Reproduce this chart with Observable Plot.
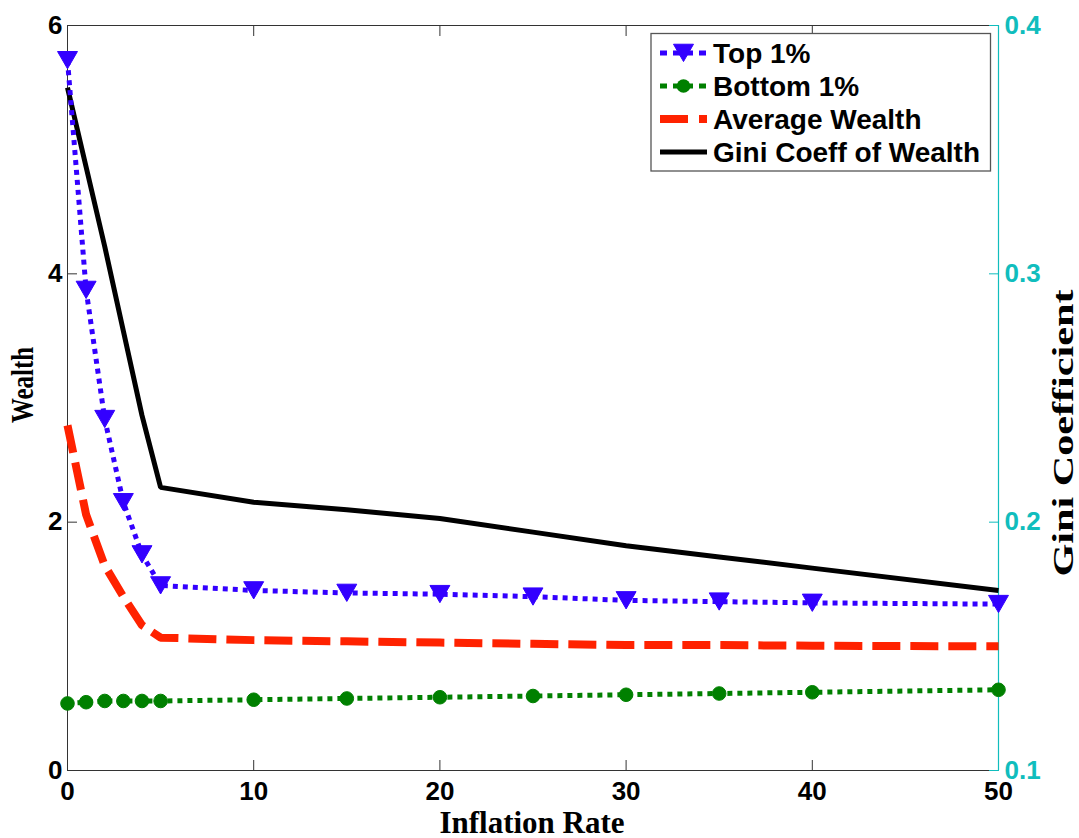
<!DOCTYPE html>
<html>
<head>
<meta charset="utf-8">
<script src="https://cdn.jsdelivr.net/npm/d3@7"></script>
<script src="https://cdn.jsdelivr.net/npm/@observablehq/plot@0.6"></script>
<style>
  body { margin: 0; background: #fff; }
  #chart { position: relative; width: 1079px; height: 838px; }
</style>
</head>
<body>
<div id="chart"></div>
<script>
// Inflation rate (%) at which each simulation was run
const inflation = [0, 1, 2, 3, 4, 5, 10, 15, 20, 25, 30, 35, 40, 50];
// Wealth of the top 1%, bottom 1% and the average agent
const top1 = [5.72, 3.87, 2.83, 2.16, 1.74, 1.49, 1.45, 1.43, 1.42, 1.40, 1.37, 1.36, 1.35, 1.34];
const bottom1 = [0.54, 0.55, 0.56, 0.56, 0.56, 0.56, 0.57, 0.58, 0.59, 0.60, 0.61, 0.62, 0.63, 0.65];
const avgWealth = [2.78, 2.06, 1.65, 1.40, 1.17, 1.07, 1.05, 1.04, 1.03, 1.02, 1.01, 1.01, 1.005, 1.00];
// Gini coefficient of wealth (right axis)
const gini = [0.375, 0.343, 0.311, 0.277, 0.243, 0.214, 0.208, 0.205, 0.2015, 0.196, 0.1905, 0.186, 0.1815, 0.1725];

const xTicks = [0, 10, 20, 30, 40, 50];
const wealthTicks = [0, 2, 4, 6];
const giniTicks = [0.1, 0.2, 0.3, 0.4];
const wealthDomain = [0, 6];
const giniDomain = [0.1, 0.4];

const seriesNames = ["Top 1%", "Bottom 1%", "Average Wealth", "Gini Coeff of Wealth"];

const BLUE = "#3300ff", GREEN = "#008000", RED = "#ff2200", CYAN = "#10bdbd";

// Gini values share the wealth scale through a linear mapping
const giniToY = g => (g - giniDomain[0]) / (giniDomain[1] - giniDomain[0]) * (wealthDomain[1] - wealthDomain[0]) + wealthDomain[0];
const yToGini = v => (v - wealthDomain[0]) / (wealthDomain[1] - wealthDomain[0]) * (giniDomain[1] - giniDomain[0]) + giniDomain[0];

const rows = inflation.map((x, i) => ({
  x, top: top1[i], bottom: bottom1[i], avg: avgWealth[i], gini: gini[i], giniY: giniToY(gini[i])
}));

const sans = "'Liberation Sans', Arial, sans-serif";
const serif = "'Liberation Serif', 'Times New Roman', serif";

const svg = Plot.plot({
  width: 1079,
  height: 838,
  marginLeft: 67,
  marginRight: 81,
  marginTop: 25,
  marginBottom: 68,
  x: {domain: [0, 50]},
  y: {domain: wealthDomain},
  style: {fontFamily: sans, fontWeight: "bold", fontSize: "26px", color: "#000", background: "#fff", overflow: "visible"},
  marks: [
    Plot.frame({stroke: "#333", strokeWidth: 1}),
    Plot.axisX(xTicks, {anchor: "bottom", tickSize: -10, tickPadding: 21, label: null, stroke: "#333",
      tickFormat: d => String(d), fontSize: 26, fontWeight: "bold"}),
    Plot.axisX(xTicks, {anchor: "top", tickSize: -10, tickFormat: () => "", label: null, stroke: "#333"}),
    Plot.axisY(wealthTicks, {anchor: "left", tickSize: -10, tickPadding: 15, label: null, stroke: "#333",
      tickFormat: d => String(d), fontSize: 26, fontWeight: "bold"}),
    Plot.ruleX([50], {stroke: CYAN, strokeWidth: 1.2}),
    Plot.axisY(giniTicks.map(giniToY), {anchor: "right", tickSize: -10, tickPadding: 16, label: null,
      color: CYAN, fontSize: 26, fontWeight: "bold", tickFormat: v => yToGini(v).toFixed(1)}),
    // Average wealth: thick red dashes
    Plot.line(rows, {x: "x", y: "avg", stroke: RED, strokeWidth: 8, strokeDasharray: "28,10", strokeLinecap: "butt", strokeLinejoin: "miter"}),
    // Gini coefficient: solid black
    Plot.line(rows, {x: "x", y: "giniY", stroke: "#000", strokeWidth: 5, strokeLinecap: "butt", strokeLinejoin: "miter"}),
    // Top 1%: dotted blue with downward triangles
    Plot.line(rows, {x: "x", y: "top", stroke: BLUE, strokeWidth: 5, strokeDasharray: "5,5", strokeLinecap: "butt"}),
    Plot.dot(rows, {x: "x", y: "top", symbol: "triangle", rotate: 180, r: 7.4, dy: -3, fill: BLUE, stroke: BLUE, strokeWidth: 1}),
    // Bottom 1%: dotted green with circles
    Plot.line(rows, {x: "x", y: "bottom", stroke: GREEN, strokeWidth: 5, strokeDasharray: "5,5", strokeLinecap: "butt"}),
    Plot.dot(rows, {x: "x", y: "bottom", r: 6.8, fill: GREEN, stroke: GREEN, strokeWidth: 1})
  ]
});

const root = d3.select(svg);

// Axis titles
root.append("text")
  .attr("transform", "translate(33,385) rotate(-90)")
  .attr("text-anchor", "middle")
  .attr("font-family", serif).attr("font-weight", "bold").attr("font-size", 31)
  .attr("textLength", 76).attr("lengthAdjust", "spacingAndGlyphs")
  .attr("fill", "#000")
  .text("Wealth");

root.append("text")
  .attr("transform", "translate(1073,433) rotate(-90)")
  .attr("text-anchor", "middle")
  .attr("font-family", serif).attr("font-weight", "bold").attr("font-size", 29)
  .attr("textLength", 287).attr("lengthAdjust", "spacingAndGlyphs")
  .attr("fill", "#000")
  .text("Gini Coefficient");

root.append("text")
  .attr("x", 532).attr("y", 833)
  .attr("text-anchor", "middle")
  .attr("font-family", serif).attr("font-weight", "bold").attr("font-size", 31)
  .attr("fill", "#000")
  .text("Inflation Rate");

// Legend box in the upper right corner of the plot
const lg = root.append("g").attr("transform", "translate(651,33.5)");
lg.append("rect").attr("width", 339.5).attr("height", 137.5)
  .attr("fill", "#fff").attr("stroke", "#555").attr("stroke-width", 1.3);

const legendStyles = [
  {color: BLUE, width: 5, dash: "7,6", marker: "triangle"},
  {color: GREEN, width: 5, dash: "7,6", marker: "circle"},
  {color: RED, width: 8, dash: "28,11", marker: null},
  {color: "#000", width: 5, dash: null, marker: null}
];
seriesNames.forEach((name, i) => {
  const s = legendStyles[i];
  const cy = 19.5 + i * 33;
  const row = lg.append("g").attr("transform", `translate(0,${cy})`);
  row.append("line").attr("x1", 9).attr("x2", 56).attr("y1", 0).attr("y2", 0)
    .attr("stroke", s.color).attr("stroke-width", s.width)
    .attr("stroke-dasharray", s.dash);
  if (s.marker === "triangle") {
    row.append("path").attr("d", d3.symbol(d3.symbolTriangle, 173)())
      .attr("transform", "translate(32.5,-3) rotate(180)")
      .attr("fill", s.color).attr("stroke", s.color);
  } else if (s.marker === "circle") {
    row.append("circle").attr("cx", 32.5).attr("r", 6.8).attr("fill", s.color);
  }
  row.append("text").attr("x", 62).attr("y", 10)
    .attr("text-anchor", "start")
    .attr("font-family", sans).attr("font-weight", "bold").attr("font-size", 28)
    .attr("fill", "#000").text(name);
});

document.getElementById("chart").appendChild(svg);
</script>
</body>
</html>
